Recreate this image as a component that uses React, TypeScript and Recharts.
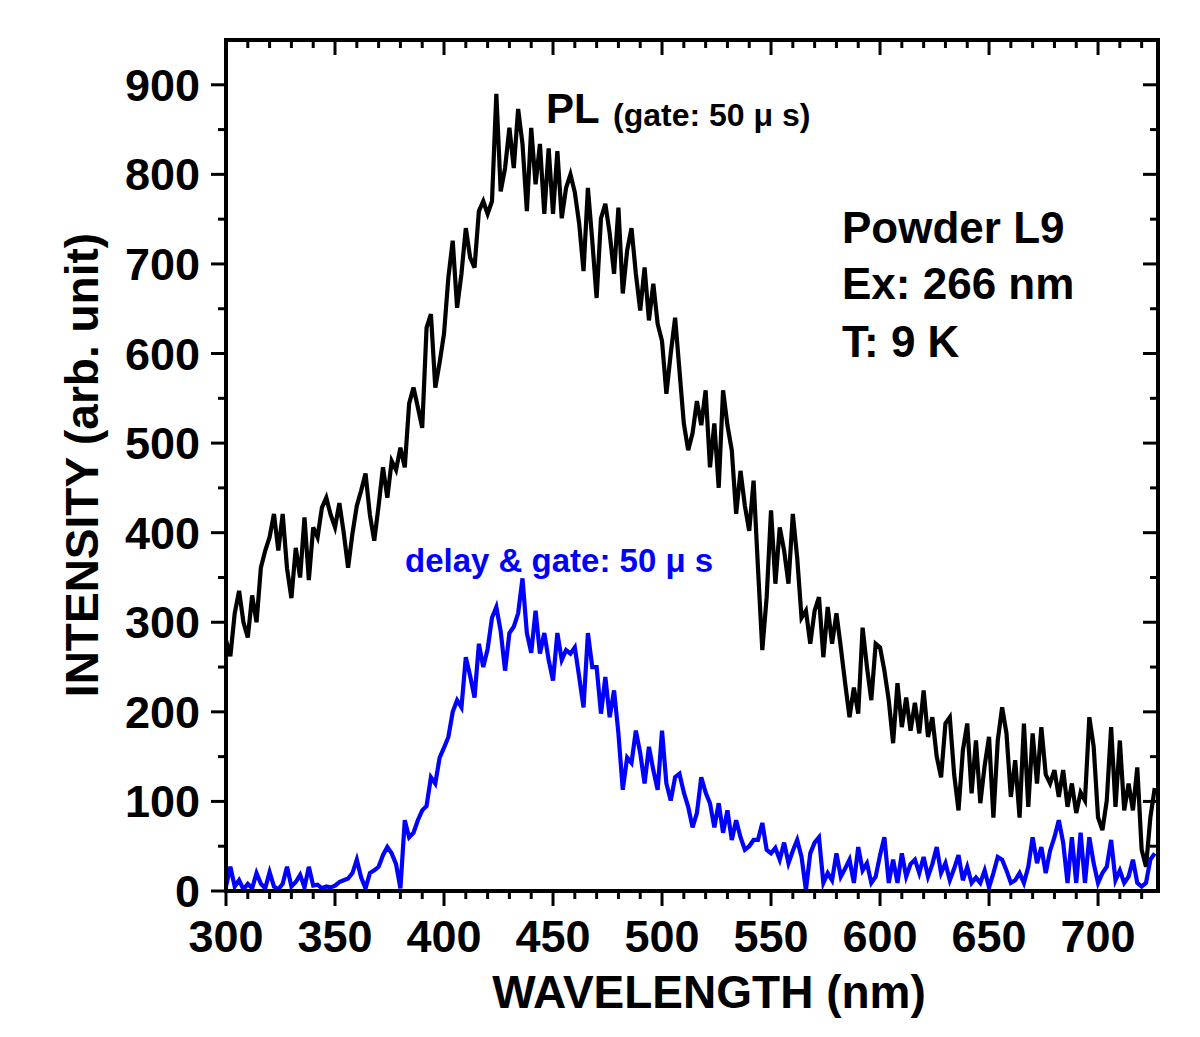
import { Line, LineChart, XAxis, YAxis } from "recharts";

const FONT = '"Liberation Sans", Arial, Helvetica, sans-serif';

// wavelength grid (nm), 2 nm steps
const wavelengths = [
  300, 302, 304, 306, 308, 310, 312, 314, 316, 318,
  320, 322, 324, 326, 328, 330, 332, 334, 336, 338,
  340, 342, 344, 346, 348, 350, 352, 354, 356, 358,
  360, 362, 364, 366, 368, 370, 372, 374, 376, 378,
  380, 382, 384, 386, 388, 390, 392, 394, 396, 398,
  400, 402, 404, 406, 408, 410, 412, 414, 416, 418,
  420, 422, 424, 426, 428, 430, 432, 434, 436, 438,
  440, 442, 444, 446, 448, 450, 452, 454, 456, 458,
  460, 462, 464, 466, 468, 470, 472, 474, 476, 478,
  480, 482, 484, 486, 488, 490, 492, 494, 496, 498,
  500, 502, 504, 506, 508, 510, 512, 514, 516, 518,
  520, 522, 524, 526, 528, 530, 532, 534, 536, 538,
  540, 542, 544, 546, 548, 550, 552, 554, 556, 558,
  560, 562, 564, 566, 568, 570, 572, 574, 576, 578,
  580, 582, 584, 586, 588, 590, 592, 594, 596, 598,
  600, 602, 604, 606, 608, 610, 612, 614, 616, 618,
  620, 622, 624, 626, 628, 630, 632, 634, 636, 638,
  640, 642, 644, 646, 648, 650, 652, 654, 656, 658,
  660, 662, 664, 666, 668, 670, 672, 674, 676, 678,
  680, 682, 684, 686, 688, 690, 692, 694, 696, 698,
  700, 702, 704, 706, 708, 710, 712, 714, 716, 718,
  720, 722, 724, 726,
];

// PL, gate 50 us (black)
const plGate = [
  280, 262, 310, 335, 300, 283, 330, 300, 361, 380,
  395, 421, 380, 421, 360, 327, 383, 350, 417, 347,
  406, 395, 428, 439, 420, 406, 433, 400, 361, 399,
  430, 447, 466, 420, 391, 430, 473, 439, 480, 470,
  495, 473, 544, 562, 540, 517, 629, 644, 562, 590,
  622, 685, 726, 651, 689, 740, 707, 696, 759, 770,
  756, 770, 890, 781, 807, 852, 807, 873, 834, 759,
  852, 789, 834, 756, 829, 756, 826, 751, 785, 800,
  780, 745, 692, 785, 726, 662, 751, 767, 734, 689,
  763, 667, 715, 740, 689, 648, 696, 637, 678, 633,
  614, 555, 600, 640, 581, 522, 492, 511, 547, 520,
  559, 473, 522, 450, 559, 520, 492, 421, 469, 430,
  402, 458, 361, 269, 328, 425, 343, 406, 380, 343,
  421, 372, 305, 313, 276, 313, 328, 261, 317, 276,
  310, 272, 232, 194, 227, 198, 294, 250, 213, 276,
  272, 246, 213, 165, 232, 183, 216, 179, 210, 176,
  224, 172, 194, 150, 127, 187, 194, 130, 90, 157,
  187, 109, 168, 98, 140, 172, 82, 168, 205, 176,
  105, 146, 82, 187, 94, 176, 120, 183, 130, 120,
  135, 105, 135, 94, 120, 87, 110, 101, 194, 161,
  82, 68, 101, 183, 94, 168, 90, 120, 90, 138,
  46, 27, 82, 115,
];

// delay & gate 50 us (blue)
const delayedGate = [
  5, 27, 5, 12, 2, 8, 3, 20, 8, 3,
  21, 5, 2, 8, 27, 5, 10, 18, 4, 27,
  6, 7, 3, 5, 4, 6, 10, 12, 14, 20,
  35, 15, 3, 20, 23, 27, 40, 49, 42, 30,
  3, 79, 60, 65, 79, 90, 95, 127, 120, 149,
  160, 172, 200, 213, 205, 261, 240, 216, 276, 250,
  270, 305, 317, 290, 246, 288, 295, 310, 349, 288,
  266, 313, 265, 288, 258, 235, 288, 258, 269, 265,
  272, 239, 205, 288, 250, 250, 198, 239, 194, 224,
  176, 113, 149, 143, 179, 154, 120, 161, 135, 113,
  179, 120, 101, 127, 131, 110, 94, 71, 87, 127,
  110, 98, 71, 98, 65, 90, 57, 79, 60, 46,
  50, 57, 57, 76, 46, 42, 48, 35, 54, 31,
  45, 57, 38, 1, 42, 54, 60, 9, 20, 12,
  42, 16, 25, 35, 9, 49, 23, 31, 9, 16,
  40, 60, 9, 35, 9, 42, 16, 30, 35, 20,
  38, 16, 30, 49, 20, 31, 12, 25, 40, 12,
  27, 9, 15, 9, 23, 4, 20, 38, 35, 23,
  9, 12, 20, 9, 27, 60, 31, 49, 20, 45,
  60, 79, 54, 9, 60, 9, 65, 9, 60, 31,
  9, 20, 27, 57, 12, 23, 9, 16, 35, 9,
  5, 9, 35, 42,
];

const xTicks = [
  300, 310, 320, 330, 340, 350, 360, 370, 380, 390,
  400, 410, 420, 430, 440, 450, 460, 470, 480, 490,
  500, 510, 520, 530, 540, 550, 560, 570, 580, 590,
  600, 610, 620, 630, 640, 650, 660, 670, 680, 690,
  700, 710, 720,
];
const yTicks = [
  0, 50, 100, 150, 200, 250, 300, 350, 400, 450,
  500, 550, 600, 650, 700, 750, 800, 850, 900,
];

const rows = wavelengths.map((w, i) => ({
  w,
  pl: plGate[i],
  delayed: delayedGate[i],
}));

const axisLine = { stroke: "#000", strokeWidth: 4, strokeLinecap: "square" as const };

function BottomTick({ x, y, payload }: any) {
  const major = payload.value % 50 === 0;
  return (
    <g>
      <line x1={x} y1={y} x2={x} y2={y + (major ? 15 : 8)} stroke="#000" strokeWidth={3} />
      {major && (
        <text x={x} y={y + 61} textAnchor="middle" fontSize={45} fontWeight="bold" fontFamily={FONT} fill="#000">
          {payload.value}
        </text>
      )}
    </g>
  );
}

function TopTick({ x, y, payload }: any) {
  const major = payload.value % 50 === 0;
  return <line x1={x} y1={y} x2={x} y2={y + (major ? 15 : 8)} stroke="#000" strokeWidth={3} />;
}

function LeftTick({ x, y, payload }: any) {
  const major = payload.value % 100 === 0;
  return (
    <g>
      <line x1={x - (major ? 15 : 8)} y1={y} x2={x} y2={y} stroke="#000" strokeWidth={3} />
      {major && (
        <text x={x - 26} y={y + 16} textAnchor="end" fontSize={45} fontWeight="bold" fontFamily={FONT} fill="#000">
          {payload.value}
        </text>
      )}
    </g>
  );
}

function RightTick({ x, y, payload }: any) {
  const major = payload.value % 100 === 0;
  return <line x1={x - (major ? 15 : 8)} y1={y} x2={x} y2={y} stroke="#000" strokeWidth={3} />;
}

export default function App() {
  return (
    <div style={{ position: "relative", width: 1192, height: 1029 }}>
      <LineChart
        width={1192}
        height={1029}
        data={rows}
        margin={{ top: 31, right: 41, bottom: 145, left: 217 }}
      >
        <XAxis
          xAxisId="bottom"
          dataKey="w"
          type="number"
          domain={[300, 727.5]}
          allowDataOverflow
          ticks={xTicks}
          interval={0}
          height={1}
          tickSize={0}
          tickMargin={0}
          tick={<BottomTick />}
          axisLine={axisLine}
        />
        <XAxis
          xAxisId="top"
          orientation="top"
          dataKey="w"
          type="number"
          domain={[300, 727.5]}
          allowDataOverflow
          ticks={xTicks}
          interval={0}
          height={1}
          tickSize={0}
          tickMargin={0}
          tick={<TopTick />}
          axisLine={axisLine}
        />
        <YAxis
          yAxisId="left"
          type="number"
          domain={[0, 950]}
          allowDataOverflow
          ticks={yTicks}
          interval={0}
          width={1}
          tickSize={0}
          tickMargin={0}
          tick={<LeftTick />}
          axisLine={axisLine}
        />
        <YAxis
          yAxisId="right"
          orientation="right"
          type="number"
          domain={[0, 950]}
          allowDataOverflow
          ticks={yTicks}
          interval={0}
          width={1}
          tickSize={0}
          tickMargin={0}
          tick={<RightTick />}
          axisLine={axisLine}
        />
        <Line
          xAxisId="bottom"
          yAxisId="left"
          type="linear"
          dataKey="pl"
          stroke="#000"
          strokeWidth={4.2}
          strokeLinejoin="miter"
          dot={false}
          isAnimationActive={false}
        />
        <Line
          xAxisId="bottom"
          yAxisId="left"
          type="linear"
          dataKey="delayed"
          stroke="#0000ff"
          strokeWidth={4.2}
          strokeLinejoin="miter"
          dot={false}
          isAnimationActive={false}
        />
      </LineChart>
      <svg
        width={1192}
        height={1029}
        style={{ position: "absolute", left: 0, top: 0, pointerEvents: "none" }}
        fontFamily={FONT}
        fontWeight="bold"
      >
        <text x={701} y={1000} textAnchor="middle" fontSize={46}>
          WAVELENGTH (nm)
        </text>
        <text x={90} y={457} textAnchor="middle" fontSize={46} transform="rotate(-90 90 457)">
          INTENSITY (arb. unit)
        </text>
        <text x={538} y={115} fontSize={42}>PL</text>
        <text x={605} y={118} fontSize={32}>(gate: 50 μ s)</text>
        <text x={834} y={235} fontSize={44}>Powder L9</text>
        <text x={834} y={291} fontSize={44}>Ex: 266 nm</text>
        <text x={834} y={349} fontSize={44}>T: 9 K</text>
        <text x={397} y={564} fontSize={33} fill="#0000ff">
          delay &amp; gate: 50 μ s
        </text>
      </svg>
    </div>
  );
}
